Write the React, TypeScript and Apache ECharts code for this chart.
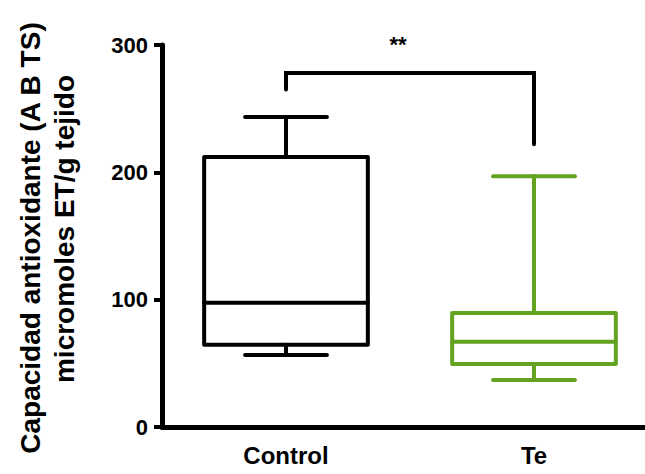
import React, { useEffect, useRef } from "react";
import * as echarts from "echarts";

const categories = ["Control", "Te"];
const mins = [56.5, 37];
const q1s = [64.5, 49.5];
const medians = [97.5, 67];
const q3s = [212, 89.5];
const maxs = [243.5, 197];
const yTicks = [0, 100, 200, 300];
const bracketTop = 278;
const bracketLegEnds = [265, 222];
const sigLabel = "**";
const yTitleLines = ["Capacidad antioxidante (A B TS)", "micromoles ET/g tejido"];

const boxColors = ["#000000", "#63A31F"];
const FONT = "'Liberation Sans', Arial, sans-serif";

export default function App() {
  const ref = useRef<HTMLDivElement>(null);
  useEffect(() => {
    if (!ref.current) return;
    const chart = echarts.init(ref.current, null, { renderer: "svg" });
    const boxData = categories.map((_, i) => [i, mins[i], q1s[i], medians[i], q3s[i], maxs[i]]);
    chart.setOption({
      animation: false,
      backgroundColor: "#ffffff",
      grid: { left: 162, top: 45, width: 496, height: 382 },
      xAxis: {
        type: "category",
        data: categories,
        axisLine: { lineStyle: { color: "#000", width: 5 } },
        axisTick: { alignWithLabel: true, length: 12, lineStyle: { color: "#000", width: 4 } },
        axisLabel: { color: "#000", fontWeight: "bold", fontSize: 24, fontFamily: FONT, margin: 16 },
        splitLine: { show: false },
      },
      yAxis: {
        type: "value",
        min: yTicks[0],
        max: yTicks[yTicks.length - 1],
        interval: yTicks[1] - yTicks[0],
        axisLine: { show: true, lineStyle: { color: "#000", width: 5 } },
        axisTick: { show: true, length: 8, lineStyle: { color: "#000", width: 4 } },
        axisLabel: { color: "#000", fontWeight: "bold", fontSize: 22, fontFamily: FONT, margin: 14 },
        splitLine: { show: false },
      },
      graphic: [
        {
          type: "text",
          x: 30,
          y: 238,
          rotation: Math.PI / 2,
          style: {
            text: yTitleLines[0],
            fill: "#000",
            font: `bold 28px ${FONT}`,
            textAlign: "center",
            textVerticalAlign: "middle",
          },
        },
        {
          type: "text",
          x: 64,
          y: 229,
          rotation: Math.PI / 2,
          style: {
            text: yTitleLines[1],
            fill: "#000",
            font: `bold 28px ${FONT}`,
            textAlign: "center",
            textVerticalAlign: "middle",
          },
        },
      ],
      series: [
        {
          type: "custom",
          clip: false,
          data: boxData,
          encode: { x: 0, y: [1, 2, 3, 4, 5] },
          renderItem: (params: any, api: any) => {
            const idx = api.value(0);
            const band = api.size([1, 0])[0];
            const color = boxColors[params.dataIndex];
            const [cx, yMin] = api.coord([idx, api.value(1)]);
            const yQ1 = api.coord([idx, api.value(2)])[1];
            const yMed = api.coord([idx, api.value(3)])[1];
            const yQ3 = api.coord([idx, api.value(4)])[1];
            const yMax = api.coord([idx, api.value(5)])[1];
            const hw = band * 0.33;
            const cw = band * 0.165;
            const lineStyle = { stroke: color, lineWidth: 4, lineCap: "round", lineJoin: "round", fill: null };
            return {
              type: "group",
              children: [
                { type: "rect", shape: { x: cx - hw, y: yQ3, width: hw * 2, height: yQ1 - yQ3 }, style: { ...lineStyle, fill: "none" } },
                { type: "line", shape: { x1: cx - hw, y1: yMed, x2: cx + hw, y2: yMed }, style: lineStyle },
                { type: "line", shape: { x1: cx, y1: yQ3, x2: cx, y2: yMax }, style: lineStyle },
                { type: "line", shape: { x1: cx, y1: yQ1, x2: cx, y2: yMin }, style: lineStyle },
                { type: "line", shape: { x1: cx - cw, y1: yMax, x2: cx + cw, y2: yMax }, style: lineStyle },
                { type: "line", shape: { x1: cx - cw, y1: yMin, x2: cx + cw, y2: yMin }, style: lineStyle },
              ],
            };
          },
        },
        {
          type: "custom",
          clip: false,
          data: [[0, 1, bracketTop, bracketLegEnds[0], bracketLegEnds[1]]],
          encode: { x: [0, 1], y: [2, 3, 4] },
          renderItem: (params: any, api: any) => {
            const [xL, yTop] = api.coord([api.value(0), api.value(2)]);
            const xR = api.coord([api.value(1), api.value(2)])[0];
            const yL = api.coord([api.value(0), api.value(3)])[1];
            const yR = api.coord([api.value(1), api.value(4)])[1];
            return {
              type: "group",
              children: [
                {
                  type: "polyline",
                  shape: { points: [[xL, yL], [xL, yTop], [xR, yTop], [xR, yR]] },
                  style: { stroke: "#000", lineWidth: 4, lineCap: "round", lineJoin: "miter", fill: null },
                },
                {
                  type: "text",
                  x: (xL + xR) / 2 - 12,
                  y: yTop - 29,
                  style: {
                    text: sigLabel,
                    fill: "#000",
                    font: `bold 22px ${FONT}`,
                    textAlign: "center",
                    textVerticalAlign: "middle",
                  },
                },
              ],
            };
          },
        },
      ],
    });
    return () => chart.dispose();
  }, []);
  return (
    <div style={{ width: 645, height: 474, position: "absolute", left: 0, top: 0, overflow: "hidden" }}>
      <div ref={ref} style={{ width: 665, height: 474 }} />
    </div>
  );
}
